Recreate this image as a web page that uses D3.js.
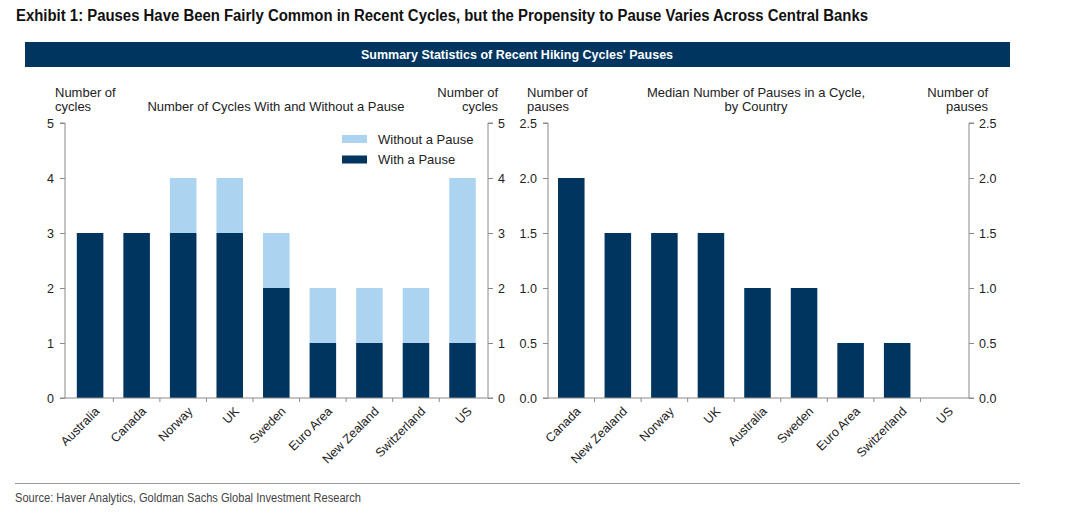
<!DOCTYPE html>
<html><head><meta charset="utf-8">
<script src="https://cdn.jsdelivr.net/npm/d3@7"></script>
<style>
body{margin:0;background:#fff;}
svg text{font-family:"Liberation Sans",Arial,sans-serif;}
</style></head>
<body>
<svg id="c" width="1080" height="514"></svg>
<script>
const leftCats = ["Australia","Canada","Norway","UK","Sweden","Euro Area","New Zealand","Switzerland","US"];
const withPause = [3,3,3,3,2,1,1,1,1];
const withoutPause = [0,0,1,1,1,1,1,1,3];
const leftTicks = [0,1,2,3,4,5];

const rightCats = ["Canada","New Zealand","Norway","UK","Australia","Sweden","Euro Area","Switzerland","US"];
const medianPauses = [2.0,1.5,1.5,1.5,1.0,1.0,0.5,0.5,0.0];
const rightTicks = [0,0.5,1.0,1.5,2.0,2.5];

const NAVY = "#00355f", LIGHT = "#acd3f0", AXIS = "#8a8a8a", TXT = "#222";
const svg = d3.select("#c");

// Title
svg.append("text").attr("x",16).attr("y",21)
  .attr("font-family","'Liberation Sans Narrow','Arial Narrow',sans-serif")
  .attr("font-weight","bold").attr("font-size",16).attr("fill","#111")
  .attr("textLength",852).attr("lengthAdjust","spacingAndGlyphs")
  .text("Exhibit 1: Pauses Have Been Fairly Common in Recent Cycles, but the Propensity to Pause Varies Across Central Banks");

// Banner
svg.append("rect").attr("x",25).attr("y",42).attr("width",985).attr("height",25).attr("fill",NAVY);
svg.append("text").attr("x",517).attr("y",59).attr("text-anchor","middle")
  .attr("fill","#fff").attr("font-weight","bold").attr("font-size",12.5).text("Summary Statistics of Recent Hiking Cycles' Pauses");

const yTop = 123, yBot = 398;

function drawPanel(cfg){
  const x = d3.scaleBand().domain(cfg.cats).range([cfg.x0, cfg.x1]).paddingInner(0.43).paddingOuter(0.215);
  const xb = d3.scaleBand().domain(cfg.cats).range([cfg.x0, cfg.x1]);
  const y = d3.scaleLinear().domain([0, cfg.max]).range([yBot, yTop]);
  const g = svg.append("g");
  cfg.draw(g, x, y);
  const la = g.append("g").attr("transform",`translate(${cfg.ax0},0)`)
    .call(d3.axisLeft(y).tickValues(cfg.ticks).tickFormat(cfg.fmt).tickSize(5).tickPadding(6));
  const ra = g.append("g").attr("transform",`translate(${cfg.ax1},0)`)
    .call(d3.axisRight(y).tickValues(cfg.ticks).tickFormat(cfg.fmt).tickSize(5).tickPadding(5));
  [la,ra].forEach(a=>{
    a.select(".domain").attr("stroke",AXIS).attr("d",`M${a===la?-5:5},${yTop}H0V${yBot}H${a===la?-5:5}`);
    a.selectAll(".tick line").attr("stroke",AXIS);
    a.selectAll(".tick text").attr("font-size",12.5).attr("fill",TXT).attr("font-family","'Liberation Sans',Arial,sans-serif");
  });
  g.append("line").attr("x1",cfg.ax0).attr("x2",cfg.ax1).attr("y1",yBot).attr("y2",yBot).attr("stroke",AXIS);
  g.selectAll(".xt").data(cfg.cats.slice(1)).join("line")
    .attr("x1",d=>xb(d)).attr("x2",d=>xb(d)).attr("y1",yBot).attr("y2",yBot+4).attr("stroke",AXIS);
  g.selectAll(".xl").data(cfg.cats).join("text")
    .attr("transform",d=>`translate(${x(d)+x.bandwidth()/2+4},${yBot+8}) rotate(-45)`)
    .attr("text-anchor","end").attr("dy","0.7em").attr("font-size",12.5).attr("fill",TXT).text(d=>d);
}

drawPanel({
  cats:leftCats, x0:66.8, x1:485.8, ax0:65, ax1:488, max:5, ticks:leftTicks, fmt:d3.format("d"),
  draw:(g,x,y)=>{
    g.selectAll(".bw").data(leftCats).join("rect")
      .attr("x",d=>x(d)).attr("width",x.bandwidth())
      .attr("y",(d,i)=>y(withPause[i])).attr("height",(d,i)=>yBot-y(withPause[i])).attr("fill",NAVY);
    g.selectAll(".bo").data(leftCats).join("rect")
      .attr("x",d=>x(d)).attr("width",x.bandwidth())
      .attr("y",(d,i)=>y(withPause[i]+withoutPause[i])).attr("height",(d,i)=>y(withPause[i])-y(withPause[i]+withoutPause[i])).attr("fill",LIGHT);
  }
});

drawPanel({
  cats:rightCats, x0:548, x1:967, ax0:548, ax1:969, max:2.5, ticks:rightTicks, fmt:d3.format(".1f"),
  draw:(g,x,y)=>{
    g.selectAll(".bm").data(rightCats).join("rect")
      .attr("x",d=>x(d)).attr("width",x.bandwidth())
      .attr("y",(d,i)=>y(medianPauses[i])).attr("height",(d,i)=>yBot-y(medianPauses[i])).attr("fill",NAVY);
  }
});

function multi(x,y,lines,anchor){
  const t = svg.append("text").attr("x",x).attr("y",y).attr("text-anchor",anchor).attr("font-size",13).attr("fill",TXT);
  lines.forEach((l,i)=>t.append("tspan").attr("x",x).attr("dy",i?13.5:0).text(l));
}
multi(55,97,["Number of","cycles"],"start");
multi(498,97,["Number of","cycles"],"end");
multi(527,97,["Number of","pauses"],"start");
multi(988,97,["Number of","pauses"],"end");
multi(276,110.5,["Number of Cycles With and Without a Pause"],"middle");
multi(756,97,["Median Number of Pauses in a Cycle,","by Country"],"middle");

const legend = [["Without a Pause",LIGHT],["With a Pause",NAVY]];
legend.forEach((d,i)=>{
  svg.append("rect").attr("x",342).attr("y",135+i*20.5).attr("width",25).attr("height",8).attr("fill",d[1]);
  svg.append("text").attr("x",378).attr("y",143.5+i*20.5).attr("font-size",13).attr("fill",TXT).text(d[0]);
});

svg.append("line").attr("x1",15).attr("x2",1020).attr("y1",483.5).attr("y2",483.5).attr("stroke","#999").attr("stroke-width",1.2);
svg.append("text").attr("x",15).attr("y",502)
  .attr("font-family","'Liberation Sans Narrow','Arial Narrow',sans-serif")
  .attr("font-size",12.5).attr("fill","#444")
  .attr("textLength",346).attr("lengthAdjust","spacingAndGlyphs")
  .text("Source: Haver Analytics, Goldman Sachs Global Investment Research");
</script>
</body></html>
